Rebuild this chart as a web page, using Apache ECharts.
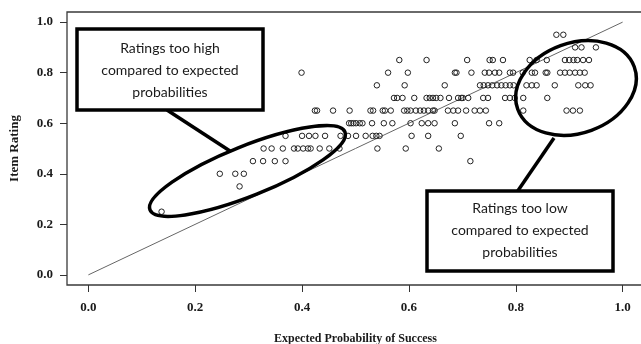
<!DOCTYPE html>
<html>
<head>
<meta charset="utf-8">
<script src="https://cdn.jsdelivr.net/npm/echarts@6/dist/echarts.min.js"></script>
<style>
  html, body { margin: 0; padding: 0; background: #fff; }
  #main { width: 641px; height: 344px; }
</style>
</head>
<body>
<div id="main"></div>
<script>
// expected probability of success, grouped by item rating
var rating025 = [0.137];
var rating035 = [0.283];
var rating040 = [0.246, 0.275, 0.291];
var rating045 = [0.308, 0.327, 0.349, 0.369, 0.715];
var rating050 = [0.328, 0.343, 0.364, 0.385, 0.392, 0.402, 0.411, 0.416, 0.433, 0.451, 0.470, 0.541, 0.594, 0.656];
var rating055 = [0.369, 0.400, 0.413, 0.425, 0.443, 0.472, 0.486, 0.501, 0.519, 0.532, 0.539, 0.545, 0.605, 0.636, 0.697];
var rating060 = [0.488, 0.492, 0.496, 0.501, 0.508, 0.513, 0.531, 0.553, 0.569, 0.603, 0.624, 0.636, 0.648, 0.686, 0.750, 0.769];
var rating065 = [0.424, 0.428, 0.458, 0.489, 0.528, 0.533, 0.551, 0.555, 0.566, 0.591, 0.597, 0.603, 0.613, 0.621, 0.628, 0.636, 0.645, 0.648, 0.673, 0.683, 0.692, 0.707, 0.723, 0.733, 0.744, 0.814, 0.895, 0.907, 0.920];
var rating070 = [0.572, 0.578, 0.588, 0.610, 0.633, 0.639, 0.645, 0.651, 0.659, 0.675, 0.692, 0.698, 0.701, 0.711, 0.739, 0.748, 0.780, 0.789, 0.798, 0.814, 0.859];
var rating075 = [0.540, 0.592, 0.667, 0.733, 0.740, 0.748, 0.756, 0.765, 0.773, 0.781, 0.789, 0.796, 0.820, 0.830, 0.839, 0.873, 0.917, 0.930, 0.940];
var rating080 = [0.399, 0.561, 0.598, 0.686, 0.689, 0.717, 0.742, 0.750, 0.761, 0.769, 0.789, 0.795, 0.813, 0.830, 0.836, 0.856, 0.859, 0.883, 0.892, 0.901, 0.911, 0.920, 0.929];
var rating085 = [0.582, 0.633, 0.709, 0.751, 0.757, 0.776, 0.826, 0.839, 0.858, 0.892, 0.900, 0.908, 0.915, 0.926, 0.937];
var rating090 = [0.911, 0.923, 0.950];
var rating095 = [0.876, 0.889];

var refLine = [[0, 0], [1, 1]];
var tickValues = [0, 0.2, 0.4, 0.6, 0.8, 1.0];
var highNote = 'Ratings too high\ncompared to expected\nprobabilities';
var lowNote = 'Ratings too low\ncompared to expected\nprobabilities';

var rows = [
  [0.25, rating025], [0.35, rating035], [0.40, rating040], [0.45, rating045],
  [0.50, rating050], [0.55, rating055], [0.60, rating060], [0.65, rating065],
  [0.70, rating070], [0.75, rating075], [0.80, rating080], [0.85, rating085],
  [0.90, rating090], [0.95, rating095]
];
var points = [];
rows.forEach(function (r) {
  r[1].forEach(function (p) { points.push([p, r[0]]); });
});

var serif = 'Liberation Serif';
var labelStyle = {
  fontFamily: serif, fontWeight: 'bold', fontSize: 13, color: '#1a1a1a'
};

var myChart = echarts.init(document.getElementById('main'));
var option = {
  animation: false,
  grid: {
    left: 67, top: 12, bottom: 59, right: -3,
    outerBoundsMode: 'none', containLabel: false,
    show: true, borderColor: '#3a3a3a', borderWidth: 1.3
  },
  xAxis: {
    type: 'value', min: -0.04, max: 1.04,
    axisLine: { show: false, onZero: false },
    splitLine: { show: false },
    axisTick: { show: true, length: 7, customValues: tickValues, lineStyle: { color: '#333' } },
    axisLabel: Object.assign({ customValues: tickValues, margin: 16, formatter: function (v) { return v.toFixed(1); } }, labelStyle),
    name: 'Expected Probability of Success',
    nameLocation: 'middle', nameGap: 48,
    nameTextStyle: { fontFamily: serif, fontWeight: 'bold', fontSize: 12, color: '#1a1a1a' }
  },
  yAxis: {
    type: 'value', min: -0.04, max: 1.04,
    axisLine: { show: false, onZero: false },
    splitLine: { show: false },
    axisTick: { show: true, length: 7, customValues: tickValues, lineStyle: { color: '#333' } },
    axisLabel: Object.assign({ customValues: tickValues, margin: 14, formatter: function (v) { return v.toFixed(1); } }, labelStyle),
    name: 'Item Rating',
    nameLocation: 'middle', nameGap: 46,
    nameTextStyle: { fontFamily: serif, fontWeight: 'bold', fontSize: 13, color: '#1a1a1a' }
  },
  series: [
    {
      type: 'line', data: refLine, symbol: 'none', silent: true,
      lineStyle: { color: '#666', width: 1 }, z: 1
    },
    {
      type: 'scatter', data: points, symbol: 'circle', symbolSize: 5.5, silent: true,
      itemStyle: { color: 'rgba(0,0,0,0)', borderColor: '#222', borderWidth: 1, opacity: 1 }, z: 2
    }
  ],
  graphic: [
    { type: 'ellipse', x: 247.5, y: 171, rotation: 0.38, shape: { cx: 0, cy: 0, rx: 105, ry: 25 },
      style: { fill: 'none', stroke: '#000', lineWidth: 3.5 }, z: 10 },
    { type: 'ellipse', x: 576, y: 88, rotation: 0.35, shape: { cx: 0, cy: 0, rx: 62, ry: 45 },
      style: { fill: 'none', stroke: '#000', lineWidth: 3.5 }, z: 10 },
    { type: 'line', shape: { x1: 167, y1: 110, x2: 230, y2: 151 },
      style: { stroke: '#000', lineWidth: 3.5 }, z: 10 },
    { type: 'line', shape: { x1: 517, y1: 192, x2: 554, y2: 138 },
      style: { stroke: '#000', lineWidth: 3.5 }, z: 10 },
    { type: 'rect', shape: { x: 77, y: 29, width: 186, height: 81 },
      style: { fill: '#fff', stroke: '#000', lineWidth: 3.5 }, z: 11 },
    { type: 'rect', shape: { x: 427, y: 191, width: 186, height: 80 },
      style: { fill: '#fff', stroke: '#000', lineWidth: 3.5 }, z: 11 },
    { type: 'text', x: 170, y: 70.5, z: 12,
      style: { text: highNote, font: '14px Lato', fill: '#1a1a1a', lineHeight: 22,
        align: 'center', verticalAlign: 'middle', textAlign: 'center', textVerticalAlign: 'middle' } },
    { type: 'text', x: 520, y: 230.5, z: 12,
      style: { text: lowNote, font: '14px Lato', fill: '#1a1a1a', lineHeight: 22,
        align: 'center', verticalAlign: 'middle', textAlign: 'center', textVerticalAlign: 'middle' } }
  ]
};
myChart.setOption(option);
</script>
</body>
</html>
